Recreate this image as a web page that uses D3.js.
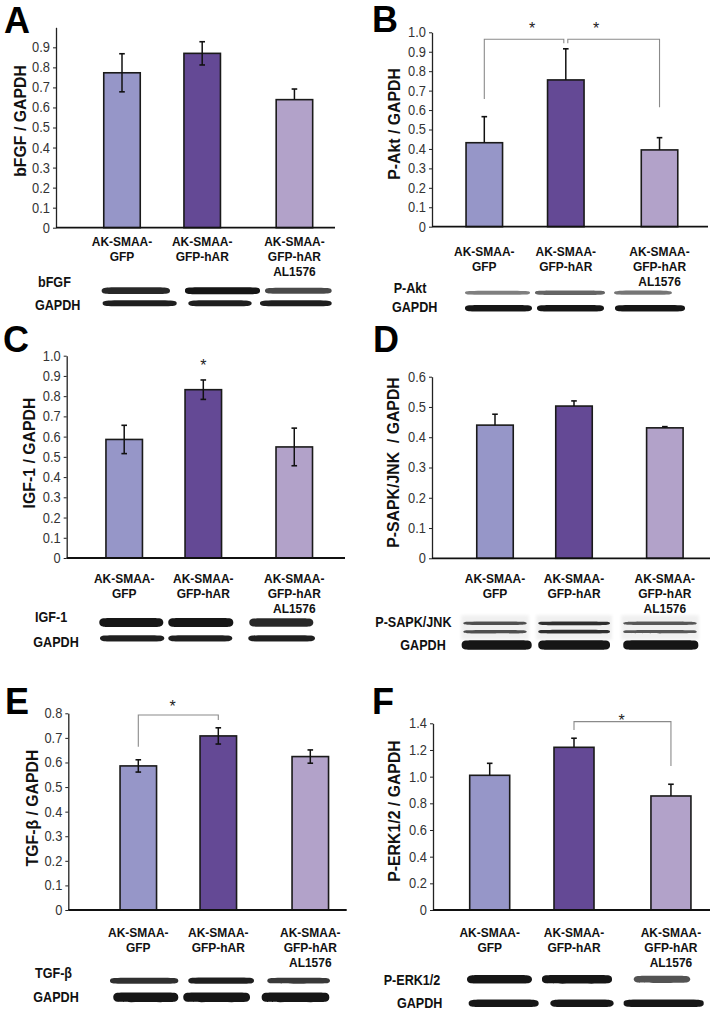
<!DOCTYPE html>
<html><head><meta charset="utf-8">
<script src="https://cdn.jsdelivr.net/npm/d3@7/dist/d3.min.js"></script>
<style>
body{margin:0;background:#fff;}
svg{display:block;font-family:"Liberation Sans",Arial,sans-serif;}
</style></head><body>
<svg id="fig" width="715" height="1021"></svg>
<script>
// ---------- data ----------
const categories = ["AK-SMAA-GFP", "AK-SMAA-GFP-hAR", "AK-SMAA-GFP-hAR AL1576"];
const categoryLines = [["AK-SMAA-", "GFP"], ["AK-SMAA-", "GFP-hAR"], ["AK-SMAA-", "GFP-hAR", "AL1576"]];
const barColors = ["#9696c8", "#644995", "#b2a2c9"];

const bfgfMean = [0.773, 0.870, 0.639];
const bfgfErr  = [0.095, 0.058, 0.053];
const aktMean  = [0.432, 0.755, 0.395];
const aktErr   = [0.134, 0.160, 0.063];
const igfMean  = [0.586, 0.832, 0.549];
const igfErr   = [0.070, 0.048, 0.093];
const jnkMean  = [0.440, 0.503, 0.431];
const jnkErr   = [0.036, 0.017, 0.004];
const tgfMean  = [0.586, 0.708, 0.624];
const tgfErr   = [0.025, 0.033, 0.027];
const erkMean  = [1.01, 1.22, 0.855];
const erkErr   = [0.090, 0.068, 0.088];

const ticksA = ["0","0.1","0.2","0.3","0.4","0.5","0.6","0.7","0.8","0.9"];
const ticksB = ["0","0.1","0.2","0.3","0.4","0.5","0.6","0.7","0.8","0.9","1.0"];
const ticksC = ["0","0.1","0.2","0.3","0.4","0.5","0.6","0.7","0.8","0.9","1.0"];
const ticksD = ["0","0.1","0.2","0.3","0.4","0.5","0.6"];
const ticksE = ["0","0.1","0.2","0.3","0.4","0.5","0.6","0.7","0.8"];
const ticksF = ["0","0.2","0.4","0.6","0.8","1.0","1.2","1.4"];

// significance annotations (value units)
const sigB = [{from:0,to:1,leftEnd:0.657,rightEnd:0.944,level:0.964,star:1.037,starAt:0.6,insetR:2},
              {from:1,to:2,leftEnd:0.944,rightEnd:0.615,level:0.964,star:1.037,starAt:0.31,insetL:2}];
const sigC = [{at:1, star:0.97}];
const sigE = [{from:0,to:1,leftEnd:0.664,rightEnd:0.773,level:0.793,star:0.842,starAt:0.43}];
const sigF = [{from:1,to:2,leftEnd:1.35,rightEnd:1.08,level:1.4125,star:1.45,starAt:0.49}];

// western blot band intensities (0..1)
const bandBfgf  = [0.85, 1.0, 0.65];
const bandGapA  = [0.9, 0.9, 0.9];
const bandAkt   = [0.35, 0.5, 0.4];
const bandGapB  = [0.95, 0.95, 0.95];
const bandIgf   = [0.95, 1.0, 0.85];
const bandGapC  = [0.9, 0.9, 0.9];
const bandJnk   = [0.6, 0.8, 0.55];
const bandGapD  = [1, 1, 1];
const bandTgf   = [0.8, 0.9, 0.75];
const bandGapE  = [1, 1, 1];
const bandErk   = [0.95, 1.0, 0.6];
const bandGapF  = [0.95, 0.95, 0.95];

// ---------- layout ----------
const slot = [0, 1, 2.15];
const panels = [
 {letter:"A", title:"bFGF / GAPDH", mean:bfgfMean, err:bfgfErr, errDown:[true,true,false], ticks:ticksA, max:1.0,
  ax:56, base:227.7, top:27.3, xEnd:335, c0:122, step:80.2, barW:36.5, letterPos:[4,33.3], titlePos:[26,121], catY:246.5, sig:[],
  blots:[{name:"bFGF", lx:38, ly:287.5, y:290.7, h:6.5, lanes:[[101.7,170],[185,260],[265,331.7]], inten:bandBfgf},
         {name:"GAPDH", lx:35, ly:310, y:303.3, h:5.5, lanes:[[102.7,176.7],[188.3,251.7],[260,331.7]], inten:bandGapA}]},
 {letter:"B", title:"P-Akt / GAPDH", mean:aktMean, err:aktErr, errDown:[false,false,false], ticks:ticksB, max:1.0,
  ax:432, base:226.7, top:32.3, xEnd:708, c0:484.3, step:81.5, barW:36.5, letterPos:[372,31.7], titlePos:[400,124], catY:256, sig:sigB,
  blots:[{name:"P-Akt", lx:393.7, ly:293, y:292.7, h:5, lanes:[[465,530],[535,605],[614,672]], inten:bandAkt},
         {name:"GAPDH", lx:392, ly:311.7, y:308.3, h:6, lanes:[[465,532],[537,604],[615,685]], inten:bandGapB}]},
 {letter:"C", title:"IGF-1 / GAPDH", mean:igfMean, err:igfErr, errDown:[true,true,true], ticks:ticksC, max:1.0,
  ax:66.7, base:558, top:355.7, xEnd:345, c0:124.2, step:79.1, barW:36.5, letterPos:[3,351.7], titlePos:[35,453], catY:583, sig:sigC,
  blots:[{name:"IGF-1", lx:35, ly:621.7, y:622.5, h:8.5, lanes:[[99.3,163.3],[168.3,233.3],[249.3,313.3]], inten:bandIgf},
         {name:"GAPDH", lx:33.3, ly:646.7, y:638.3, h:6, lanes:[[100,164.3],[168.3,232.3],[248.3,315]], inten:bandGapC}]},
 {letter:"D", title:"P-SAPK/JNK  / GAPDH", mean:jnkMean, err:jnkErr, errDown:[false,false,false], ticks:ticksD, max:0.6,
  ax:432, base:558.3, top:376.7, xEnd:710, c0:495, step:79, barW:36.5, letterPos:[373,351.7], titlePos:[399,462.5], catY:583.3, sig:[],
  blots:[{name:"P-SAPK/JNK", lx:375.3, ly:626.7, ys:[623.3,631.7], h:3.5, lanes:[[463.3,526.7],[538.3,610],[623.3,696.7]], inten:bandJnk, bg:true},
         {name:"GAPDH", lx:400.3, ly:650, y:645, h:9, lanes:[[461.7,531.7],[538.3,610],[623.3,698.3]], inten:bandGapD}]},
 {letter:"E", title:"TGF-β / GAPDH", mean:tgfMean, err:tgfErr, errDown:[true,true,true], ticks:ticksE, max:0.8,
  ax:68.3, base:910, top:713.3, xEnd:346.7, c0:138.3, step:80, barW:36.5, letterPos:[5,714], titlePos:[38,808], catY:936.7, sig:sigE,
  blots:[{name:"TGF-β", lx:35, ly:978, y:980.7, h:6, lanes:[[110,178.3],[188.3,254],[267.3,330]], inten:bandTgf},
         {name:"GAPDH", lx:33.3, ly:1001.7, y:997.3, h:9, lanes:[[113.3,178.3],[183.3,250],[261.7,329.3]], inten:bandGapE}]},
 {letter:"F", title:"P-ERK1/2 / GAPDH", mean:erkMean, err:erkErr, errDown:[false,false,false], ticks:ticksF, max:1.4,
  ax:433, base:910, top:723.3, xEnd:710, c0:489.7, step:84.3, barW:40, letterPos:[372,714], titlePos:[400,811], catY:936.7, sig:sigF,
  blots:[{name:"P-ERK1/2", lx:383.7, ly:985, y:979.3, h:8, lanes:[[467,532],[542,612],[633.7,690.3]], inten:bandErk},
         {name:"GAPDH", lx:397, ly:1008, y:1003.3, h:7, lanes:[[468.7,538.7],[550.3,613.7],[623.7,703.7]], inten:bandGapF}]}
];

const svg = d3.select("#fig");
svg.append("rect").attr("width",715).attr("height",1021).attr("fill","#fff");
const defs = svg.append("defs");
defs.append("filter").attr("id","blur").attr("x","-20%").attr("y","-100%").attr("width","140%").attr("height","300%")
  .append("feGaussianBlur").attr("stdDeviation",0.7);
defs.append("filter").attr("id","blur2").attr("x","-20%").attr("y","-50%").attr("width","140%").attr("height","200%")
  .append("feGaussianBlur").attr("stdDeviation",1.5);

const bandLine = d3.line().curve(d3.curveCardinalClosed.tension(0.3));
// slightly condensed text, as in the reference
const squeeze = (sel, x, s) => sel.attr("transform", `translate(${x},0) scale(${s},1) translate(${-x},0)`);

function drawPanel(p) {
  const g = svg.append("g");
  const y = d3.scaleLinear().domain([0, p.max]).range([p.base, p.top]);
  const x = d3.scaleLinear().domain([0, 1]).range([p.c0, p.c0 + p.step]);
  const cx = i => x(slot[i]);

  g.append("text").attr("x", p.letterPos[0]).attr("y", p.letterPos[1])
    .attr("font-size", 36).attr("font-weight", "bold").attr("fill", "#000").text(p.letter);

  g.append("text").attr("transform", `translate(${p.titlePos[0]},${p.titlePos[1]}) rotate(-90) scale(0.96,1.05)`)
    .attr("text-anchor", "middle").attr("font-size", 16.5).attr("font-weight", "bold")
    .style("white-space", "pre").attr("fill", "#111").text(p.title);

  const axis = d3.axisLeft(y).tickValues(p.ticks.map(Number)).tickFormat((d, i) => p.ticks[i])
    .tickSize(3).tickSizeOuter(0).tickPadding(3);
  const ga = g.append("g").attr("transform", `translate(${p.ax},0)`).call(axis)
    .attr("font-family", null).attr("font-size", 14);
  ga.select(".domain").attr("stroke", "#222").attr("stroke-width", 1.3);
  ga.selectAll(".tick line").attr("stroke", "#222");
  ga.selectAll(".tick text").attr("fill", "#333").attr("transform", "translate(-6,0) scale(0.92,1) translate(6,0)");

  // bars
  g.selectAll("rect.bar").data(p.mean).join("rect").attr("class", "bar")
    .attr("x", (d, i) => cx(i) - p.barW / 2).attr("y", d => y(d))
    .attr("width", p.barW).attr("height", d => p.base - y(d))
    .attr("fill", (d, i) => barColors[i]).attr("stroke", "#1a1a1a").attr("stroke-width", 1.6);

  // x axis line
  g.append("line").attr("x1", p.ax).attr("x2", p.xEnd).attr("y1", p.base).attr("y2", p.base)
    .attr("stroke", "#111").attr("stroke-width", 1.8);

  // error bars
  p.mean.forEach((m, i) => {
    const e = p.err[i];
    const yt = y(m + e), yb = p.errDown[i] ? y(m - e) : y(m);
    g.append("line").attr("x1", cx(i)).attr("x2", cx(i)).attr("y1", yt).attr("y2", yb)
      .attr("stroke", "#111").attr("stroke-width", 1.5);
    g.append("line").attr("x1", cx(i) - 2.8).attr("x2", cx(i) + 2.8).attr("y1", yt).attr("y2", yt)
      .attr("stroke", "#111").attr("stroke-width", 1.6);
    if (p.errDown[i]) g.append("line").attr("x1", cx(i) - 2.8).attr("x2", cx(i) + 2.8).attr("y1", yb).attr("y2", yb)
      .attr("stroke", "#111").attr("stroke-width", 1.6);
  });

  // significance
  p.sig.forEach(s => {
    if (s.at !== undefined) {
      g.append("text").attr("x", cx(s.at)).attr("y", y(s.star) + 9).attr("text-anchor", "middle")
        .attr("font-size", 16).attr("fill", "#222").text("*");
      return;
    }
    const x1 = cx(s.from) + (s.insetL || 0), x2 = cx(s.to) - (s.insetR || 0);
    g.append("path").attr("d", `M${x1},${y(s.leftEnd)}V${y(s.level)}H${x2}V${y(s.rightEnd)}`)
      .attr("fill", "none").attr("stroke", "#8a8a8a").attr("stroke-width", 1.1);
    g.append("text").attr("x", x1 + (x2 - x1) * s.starAt).attr("y", y(s.star) + 9).attr("text-anchor", "middle")
      .attr("font-size", 16).attr("fill", "#222").text("*");
  });

  // category labels
  categoryLines.forEach((lines, i) => {
    const t = g.append("text").attr("text-anchor", "middle").attr("font-size", 13.6).attr("font-weight", "bold").attr("fill", "#111");
    squeeze(t, cx(i), 0.88);
    lines.forEach((l, k) => t.append("tspan").attr("x", cx(i)).attr("y", p.catY + k * 15).text(l));
  });

  // blots
  p.blots.forEach(r => {
    const t = g.append("text").attr("x", r.lx).attr("y", r.ly).attr("font-size", 14).attr("font-weight", "bold").attr("fill", "#111").text(r.name);
    squeeze(t, r.lx, 0.9);
    const ys = r.ys || [r.y];
    r.lanes.forEach((ln, i) => {
      const it = r.inten[i];
      if (r.bg) {
        g.append("rect").attr("x", ln[0] - 2).attr("y", ys[0] - 8).attr("width", ln[1] - ln[0] + 4)
          .attr("height", ys[ys.length - 1] - ys[0] + 16).attr("fill", "#f0f0f0").attr("filter", "url(#blur2)");
      }
      ys.forEach(yy => {
        const h = r.h * (0.55 + 0.45 * it);
        const pts = [[ln[0], yy], [ln[0] + 4, yy - h / 2], [(ln[0] + ln[1]) / 2, yy - h / 2 - 0.3], [ln[1] - 4, yy - h / 2],
                     [ln[1], yy], [ln[1] - 4, yy + h / 2], [(ln[0] + ln[1]) / 2, yy + h / 2 + 0.3], [ln[0] + 4, yy + h / 2]];
        g.append("path").attr("d", bandLine(pts)).attr("fill", "#121212")
          .attr("fill-opacity", 0.3 + 0.7 * it).attr("filter", "url(#blur)");
      });
    });
  });
}

panels.forEach(drawPanel);
</script>
</body></html>
